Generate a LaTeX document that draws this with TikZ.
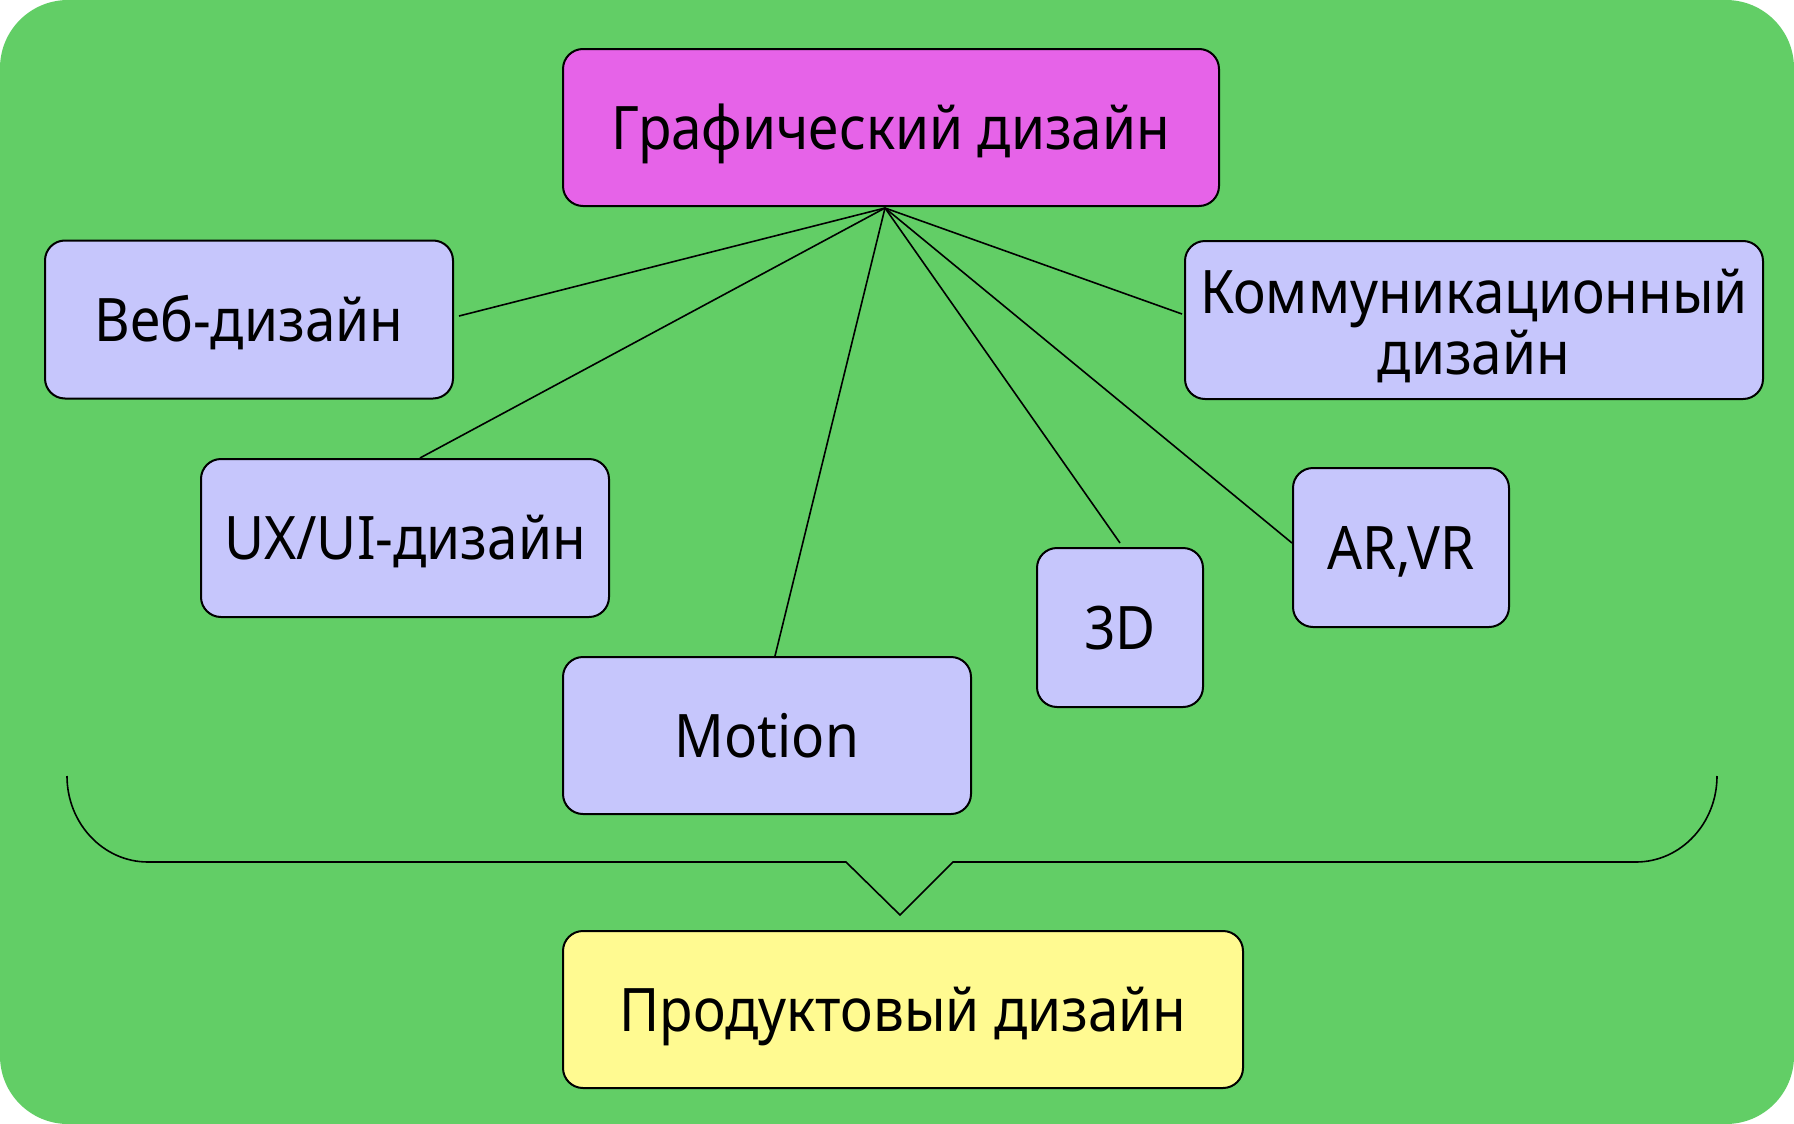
\documentclass[tikz,border=0pt]{standalone}
\usepackage{fontspec}
\setmainfont[FakeStretch=0.915]{Noto Sans}
\definecolor{bggreen}{RGB}{98,206,102}
\definecolor{magbox}{RGB}{230,99,232}
\definecolor{lavbox}{RGB}{198,198,252}
\definecolor{yelbox}{RGB}{255,250,145}
\begin{document}
\begin{tikzpicture}[x=0.5pt,y=-0.5pt,
  box/.style={draw=black, line width=1pt, rounded corners=10pt, fill=lavbox,
    font=\fontsize{30}{26}\selectfont, align=center, inner sep=0pt,
    text height=21.5pt, text depth=0pt},
  conn/.style={draw=black, line width=0.8pt}]
\useasboundingbox (0,0) rectangle (1794,1124);
\fill[white] (0,0) rectangle (1794,1124);
\fill[bggreen, rounded corners=34pt] (0,0) rectangle (1794,1124);

\node[box, fill=magbox, minimum width=328pt, minimum height=78.5pt] (g) at (891,127.5) {Графический дизайн};
\node[box, minimum width=204pt, minimum height=79pt] (web) at (249,319.5) {Веб-дизайн};
\node[box, minimum width=204pt, minimum height=79pt] (ux) at (405,538) {UX/UI-дизайн};
\node[box, minimum width=204pt, minimum height=78.5pt] (motion) at (767,735.5) {Motion};
\node[box, fill=yelbox, minimum width=340pt, minimum height=78.5pt] (prod) at (903,1009.5) {Продуктовый дизайн};
\node[box, text height=54.5pt, minimum width=289pt, minimum height=79pt] (komm) at (1474,320) {Коммуникационный\\дизайн};
\node[box, minimum width=108pt, minimum height=79.5pt] (arvr) at (1401,547.5) {AR,VR};
\node[box, minimum width=83pt, minimum height=79.5pt] (d3) at (1120,627.5) {3D};

\coordinate (hub) at (885,208);
\draw[conn] (hub) -- ([xshift=2.5pt,yshift=1.75pt]web.east);
\draw[conn] (hub) -- ([xshift=7.5pt]ux.north);
\draw[conn] (hub) -- ([xshift=4pt]motion.north);
\draw[conn] (hub) -- ([yshift=2pt]d3.north);
\draw[conn] (hub) -- ([yshift=2.25pt]arvr.west);
\draw[conn] (hub) -- ([xshift=-1pt,yshift=3pt]komm.west);

\coordinate (bl) at (67,776);
\coordinate (br) at (1717,776);
\coordinate (tip) at (900,915);
\draw[conn] (bl) .. controls (67,823.5) and (103.3,862) .. (148,862) -- (846,862) -- (tip) -- (953,862) -- (1636,862) .. controls (1680.7,862) and (1717,823.5) .. (br);
\end{tikzpicture}
\end{document}
